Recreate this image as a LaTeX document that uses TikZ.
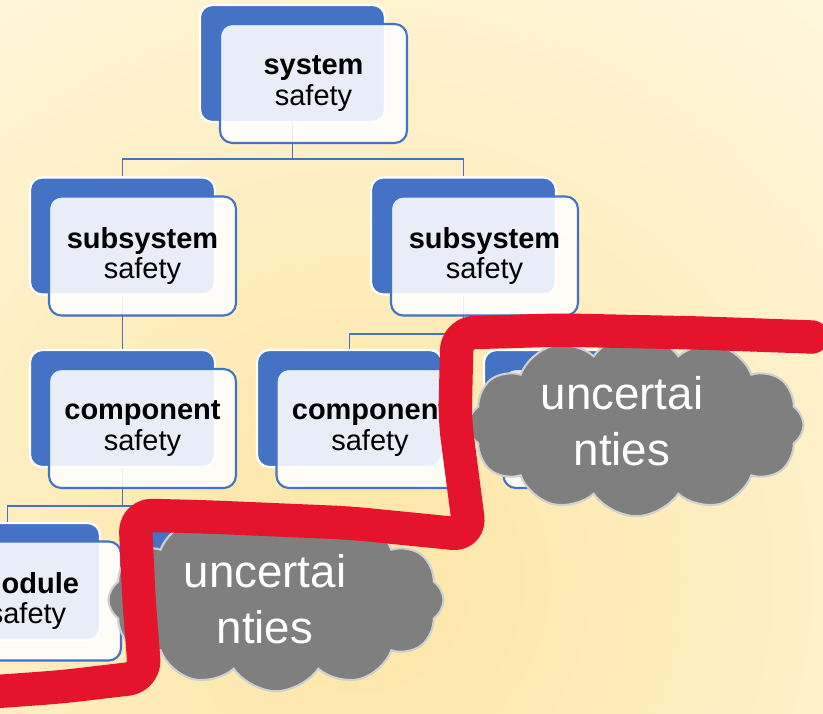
\documentclass[tikz,border=0pt]{standalone}
\usepackage{fontspec}
\setmainfont{Liberation Sans}
\usetikzlibrary{shapes.symbols}

\definecolor{boxblue}{HTML}{4472C4}
\definecolor{cloudgray}{HTML}{7F7F7F}
\definecolor{cloudrim}{HTML}{D0D0D0}
\definecolor{penred}{HTML}{E5132B}
\definecolor{bglight}{HTML}{FFF7DE}
\definecolor{bgwarm}{HTML}{FDE5A4}

\tikzset{
  backbox/.style={fill=boxblue, draw=white, line width=1.2pt, rounded corners=7pt,
    minimum width=3.7cm, minimum height=2.34cm},
  frontbox/.style={fill=white, fill opacity=0.88, text opacity=1, draw=boxblue,
    line width=1.2pt, rounded corners=7pt, minimum width=3.74cm, minimum height=2.38cm,
    align=center, font=\fontsize{16.5}{17.6}\selectfont},
  link/.style={draw=boxblue, line width=1.1pt},
  cloudy/.style={cloud, cloud puffs=12, cloud puff arc=112, aspect=1.9,
    fill=cloudgray, draw=cloudrim, line width=1.2pt,
    minimum width=6.7cm, minimum height=3.65cm},
  cloudtext/.style={text=white, align=center, font=\fontsize{26}{32}\selectfont},
  redpen/.style={draw=penred, line width=19pt, line cap=round, line join=round,
    rounded corners=10pt}
}

\begin{document}
\begin{tikzpicture}[x=0.02cm, y=-0.02cm]
  \useasboundingbox (0,0) rectangle (823,714);
  \clip (0,0) rectangle (823,714);
  \shade[inner color=bgwarm, outer color=bglight] (360,580) circle (760);

  % back boxes
  \node[backbox] (sysb) at (292.5,63.5) {};
  \node[backbox] (subAb) at (122.5,236) {};
  \node[backbox] (subBb) at (463.5,236) {};
  \node[backbox] (compAb) at (122.5,408.5) {};
  \node[backbox] (compBb) at (349.5,408.5) {};
  \node[backbox] (compCb) at (576.5,408.5) {};
  \node[backbox] (modAb) at (7.5,581.5) {};
  \node[backbox] (modBb) at (234.5,581.5) {};

  % tree lines
  \draw[link] (sysb.south) -- ++(0,36) -| (subAb.north);
  \draw[link] (sysb.south) ++(0,36) -| (subBb.north);
  \draw[link] (subAb.south) -- (compAb.north);
  \draw[link] (subBb.south) -- ++(0,38) -| (compBb.north);
  \draw[link] (subBb.south) ++(0,38) -| (compCb.north);
  \draw[link] (compAb.south) -- ++(0,38) -| (modAb.north);
  \draw[link] (compAb.south) ++(0,38) -| (modBb.north);

  % front boxes
  \node[frontbox] (sysf) at (313.5,83.5) {\textbf{system}\\safety};
  \node[frontbox] (subAf) at (142.5,256) {\textbf{subsystem}\\safety};
  \node[frontbox] (subBf) at (484.5,256) {\textbf{subsystem}\\safety};
  \node[frontbox] (compAf) at (142.5,428.5) {\textbf{component}\\safety};
  \node[frontbox] (compBf) at (370,428.5) {\textbf{component}\\safety};
  \node[frontbox] (compCf) at (597,428.5) {};
  \node[frontbox] (modAf) at (27.5,601) {\textbf{module}\\safety};
  \node[frontbox] (modBf) at (255,601) {};

  % clouds
  \node[cloudy] (cloudA) at (636,425) {};
  \node[cloudtext] (textA) at (622,421) {uncertai\\nties};
  \node[cloudy] (cloudB) at (276,600) {};
  \node[cloudtext] (textB) at (265,599) {uncertai\\nties};

  % red pen line
  \draw[redpen] (-10,692) -- (60,687) -- (145,677) -- (139,600) -- (135,515)
    -- (210,517) -- (350,523) -- (470,535) -- (455,420) -- (457,333)
    -- (560,330) -- (700,333) -- (812,337);
\end{tikzpicture}
\end{document}
